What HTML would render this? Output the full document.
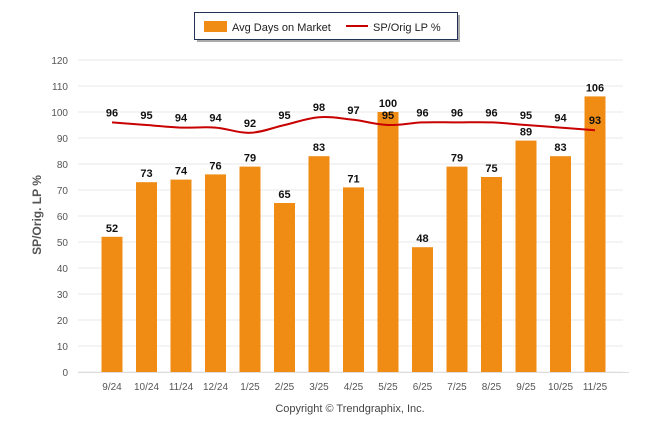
<!DOCTYPE html>
<html><head><meta charset="utf-8"><style>
body{margin:0;background:#fff;width:646px;height:434px;overflow:hidden;font-family:"Liberation Sans",sans-serif}
</style></head><body>
<svg id="c" width="646" height="434" xmlns="http://www.w3.org/2000/svg"></svg>
<script>
const categories=["9/24","10/24","11/24","12/24","1/25","2/25","3/25","4/25","5/25","6/25","7/25","8/25","9/25","10/25","11/25"];
const daysOnMarket=[52,73,74,76,79,65,83,71,100,48,79,75,89,83,106];
const spOrigLp=[96,95,94,94,92,95,98,97,95,96,96,96,95,94,93];
const yTicks=[0,10,20,30,40,50,60,70,80,90,100,110,120];
const NS="http://www.w3.org/2000/svg";
const svg=document.getElementById('c');
function y(v){return 372-v*2.6;}
function x(i){return 112+i*34.5;}
function mk(t,a,txt){const e=document.createElementNS(NS,t);for(const k in a)e.setAttribute(k,a[k]);if(txt!==undefined)e.textContent=txt;svg.appendChild(e);return e;}
yTicks.forEach(v=>{
 const g=mk('line',{x1:78,x2:623,y1:y(v),y2:y(v),stroke:'#e8e8e8','stroke-width':1});
 
 
 const t=mk('text',{x:68,y:y(v)+4,'text-anchor':'end','font-size':10,fill:'#555'},v);
 
 
});
const ax=mk('line',{x1:78,x2:629,y1:372.5,y2:372.5,stroke:'#ddd'});


categories.forEach((c,i)=>{
 const b=mk('rect',{x:x(i)-10.5,y:y(daysOnMarket[i]),width:21,height:372-y(daysOnMarket[i]),fill:'#f08c14'});
 
 
 const t=mk('text',{x:x(i),y:390,'text-anchor':'middle','font-size':10,fill:'#555'},c);
 
 
});
const pts=spOrigLp.map((v,i)=>[x(i),y(v)]);
let d='M'+pts[0][0]+','+pts[0][1];
for(let i=0;i<pts.length-1;i++){
 const p0=pts[Math.max(0,i-1)],p1=pts[i],p2=pts[i+1],p3=pts[Math.min(pts.length-1,i+2)];
 const t=0.18;
 d+=' C'+(p1[0]+(p2[0]-p0[0])*t)+','+(p1[1]+(p2[1]-p0[1])*t)+' '+(p2[0]-(p3[0]-p1[0])*t)+','+(p2[1]-(p3[1]-p1[1])*t)+' '+p2[0]+','+p2[1];
}
const ln=mk('path',{d:d,fill:'none',stroke:'#c80000','stroke-width':2});


categories.forEach((c,i)=>{
 const t=mk('text',{x:x(i),y:y(daysOnMarket[i])-5,'text-anchor':'middle','font-size':11,'font-weight':'bold',fill:'#111'},daysOnMarket[i]);
 
 
 const u=mk('text',{x:x(i),y:y(spOrigLp[i])-6,'text-anchor':'middle','font-size':11,'font-weight':'bold',fill:'#111'},spOrigLp[i]);
 
 
});
const yt=mk('text',{x:0,y:0,transform:'translate(41,215) rotate(-90)','text-anchor':'middle','font-size':12,'font-weight':'bold',fill:'#555'},'SP/Orig. LP %');


const cp=mk('text',{x:350,y:412,'text-anchor':'middle','font-size':11,fill:'#444'},'Copyright © Trendgraphix, Inc.');


const sh=mk('rect',{x:197,y:15,width:263,height:27,fill:'#aaa'});


const lb=mk('rect',{x:194.5,y:12.5,width:263,height:27,fill:'#fff',stroke:'#223355'});


const l1=mk('rect',{x:204,y:21,width:23,height:11,fill:'#f08c14'});


const l1t=mk('text',{x:232,y:31,'font-size':11,fill:'#222'},'Avg Days on Market');


const l2=mk('line',{x1:346,x2:368,y1:26,y2:26,stroke:'#c80000','stroke-width':2});


const l2t=mk('text',{x:373,y:31,'font-size':11,fill:'#222'},'SP/Orig LP %');


</script>
</body></html>
